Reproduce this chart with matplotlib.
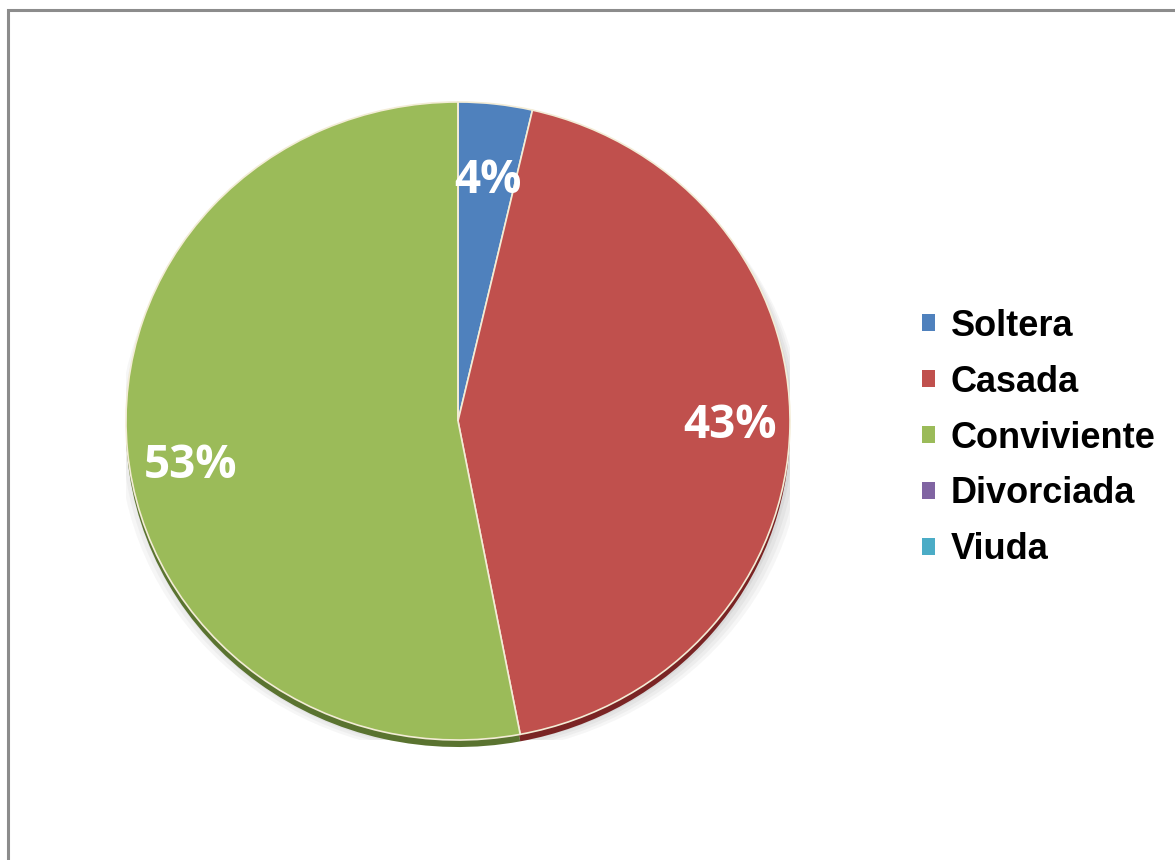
#!/usr/bin/env python3
"""Pie chart of civil status (estado civil)."""

import matplotlib

matplotlib.use("Agg")
import matplotlib.pyplot as plt
import matplotlib.patches as mpatches
from matplotlib.patches import Ellipse, Rectangle

categories = ["Soltera", "Casada", "Conviviente", "Divorciada", "Viuda"]
shares = [3.6, 43.4, 53.0, 0.0, 0.0]

COLORS = ["#4F81BD", "#C0504D", "#9BBB59", "#8064A2", "#4BACC6"]
DARK = ["#2f4f7a", "#7a2424", "#5a7330", "#4e3a66", "#2c6e80"]

W, H = 1175, 860


def _pct(p):
    return f"{p:.0f}%" if p > 0 else ""


fig = plt.figure(figsize=(W / 100, H / 100), dpi=100)
fig.patch.set_facecolor("white")

# outer chart border (top and left edges visible in the frame)
fig.add_artist(Rectangle((8 / W, -0.05), 1.2, 1 - 10 / H + 0.05,
                         transform=fig.transFigure, fill=False,
                         edgecolor="#8c8c8c", linewidth=2.2))

# pie face spans x 126..790, y 102..740 px
ax = fig.add_axes([126 / W, (H - 740) / H, 664 / W, 638 / H])

# soft drop shadow
for i, a in enumerate([0.05, 0.05, 0.06, 0.07]):
    off = 0.045 - i * 0.008
    ax.add_patch(Ellipse((0.01, -off), 2.0 + 0.02 * (3 - i), 2.0,
                         facecolor="#555555", alpha=a, edgecolor="none",
                         zorder=0))

# darker bevel underneath the face
ax.pie(shares, colors=DARK, startangle=90, counterclock=False,
       radius=1.0, center=(0, -0.022), frame=True,
       wedgeprops=dict(linewidth=0, zorder=1))

wedges, _, autotexts = ax.pie(
    shares, colors=COLORS, startangle=90, counterclock=False, radius=1.0,
    autopct=_pct, pctdistance=0.79, frame=True,
    wedgeprops=dict(edgecolor="#f3ecd6", linewidth=1.2, zorder=2),
)
# small nudges so labels sit where the original placed them
nudges = [(0.0, -0.03), (0.03, 0.0), (-0.02, -0.065), (0, 0), (0, 0)]
for t, (dx, dy) in zip(autotexts, nudges):
    x, y = t.get_position()
    t.set_position((x + dx, y + dy))
    t.set_color("white")
    t.set_fontsize(33)
    t.set_fontweight("bold")
    t.set_family(["Open Sans", "DejaVu Sans"])
    t.set_zorder(3)

ax.set_aspect("auto")
ax.set_xlim(-1, 1)
ax.set_ylim(-1, 1)
ax.axis("off")

handles = [mpatches.Patch(facecolor=c, edgecolor="none") for c in COLORS]
fig.legend(handles, categories, loc="center left",
           bbox_to_anchor=(922 / W, 1 - 438 / H), frameon=False,
           prop=dict(family=["Liberation Sans", "DejaVu Sans"],
                     weight="bold", size=26),
           handlelength=0.37, handleheight=0.37, handletextpad=0.42,
           labelspacing=0.58, borderpad=0, borderaxespad=0)

fig.savefig("out.png", dpi=100, facecolor="white")
